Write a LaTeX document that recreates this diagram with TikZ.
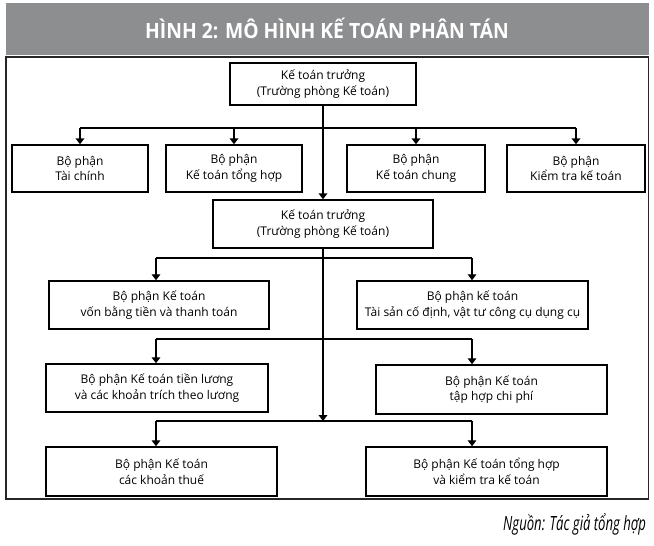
\documentclass[tikz,border=0pt]{standalone}
\usepackage{fontspec}
\setmainfont{Open Sans}
\newfontfamily\titlefont[FakeStretch=0.92]{Open Sans}
\newfontfamily\notefont[FakeStretch=0.67]{Open Sans}
\usetikzlibrary{arrows.meta}
\definecolor{headgray}{RGB}{141,142,144}

\tikzset{every picture/.style={line width=0.75pt}}
\tikzset{
  unitbox/.style={draw, line width=1.1pt, align=center, inner sep=0pt, font=\fontsize{9}{11.8}\selectfont},
  mainbus/.style={line width=1.5pt},
  subbus/.style={line width=0.9pt},
  downtip/.style={-{Triangle[width=6.5pt,length=4.5pt]}}
}

\begin{document}
\begin{tikzpicture}[x=0.75pt,y=0.75pt,yscale=-1,xscale=1]
\useasboundingbox (0,0) rectangle (654,546);
%Shape: Rectangle (title band)
\fill [headgray] (6,3) rectangle (649,55) ;
%Shape: Rectangle (frame)
\draw [line width=0.9pt, black!85] (6,57) rectangle (648.5,499) ;
% Text Node
\node (title) at (327,28) [text=white, font=\titlefont\bfseries\fontsize{15.75}{18}\selectfont] {HÌNH 2: MÔ HÌNH KẾ TOÁN PHÂN TÁN};

% boxes
\node (top) at (323,84) [unitbox, minimum width=139.5pt, minimum height=31.5pt] {Kế toán trưởng\\(Trường phòng Kế toán)};
\node (b1) at (80,168.5) [unitbox, minimum width=102pt, minimum height=35.25pt] {Bộ phận\\Tài chính};
\node (b2) at (234,168.5) [unitbox, minimum width=102pt, minimum height=35.25pt] {Bộ phận\\Kế toán tổng hợp};
\node (b3) at (416,168.5) [unitbox, minimum width=103.5pt, minimum height=35.25pt] {Bộ phận\\Kế toán chung};
\node (b4) at (576,168.5) [unitbox, minimum width=103.5pt, minimum height=35.25pt] {Bộ phận\\Kiểm tra kế toán};
\node (mid) at (323,224) [unitbox, minimum width=165pt, minimum height=36pt] {Kế toán trưởng\\(Trường phòng Kế toán)};
\node (l1) at (159,305) [unitbox, minimum width=165pt, minimum height=36pt] {Bộ phận Kế toán\\vốn bằng tiền và thanh toán};
\node (r1) at (472.5,305) [unitbox, minimum width=173.25pt, minimum height=36pt] {Bộ phận kế toán\\Tài sản cố định, vật tư công cụ dụng cụ};
\node (l2) at (157,388) [unitbox, minimum width=166.5pt, minimum height=36pt] {Bộ phận Kế toán tiền lương\\và các khoản trích theo lương};
\node (r2) at (491.5,389.5) [unitbox, minimum width=173.25pt, minimum height=36.75pt] {Bộ phận Kế toán\\tập hợp chi phí};
\node (l3) at (161.5,471.5) [unitbox, minimum width=173.25pt, minimum height=36.75pt] {Bộ phận Kế toán\\các khoản thuế};
\node (r3) at (486.5,471.5) [unitbox, minimum width=180.75pt, minimum height=36.75pt] {Bộ phận Kế toán tổng hợp\\và kiểm tra kế toán};

% branch points
\coordinate (hub1) at (323,128);
\coordinate (hub2) at (323,258);
\coordinate (hub3) at (323,339);
\coordinate (hub4) at (323,421);
\coordinate (lx) at (156,0);
\coordinate (rx) at (472,0);

%Straight Lines
\draw [mainbus] (hub1 -| b1.north) -- (hub1 -| b4.north) ;
\foreach \b in {b1,b2,b3,b4}
  \draw [mainbus, downtip] (hub1 -| \b.north) -- (\b.north) ;
\draw [mainbus, downtip] (top.south) -- (mid.north) ;
\draw [mainbus, downtip] (mid.south) -- (hub4) ;
%Straight Lines
\foreach \h/\l/\r in {hub2/l1/r1, hub3/l2/r2, hub4/l3/r3} {
  \draw [subbus] (\h -| lx) -- (\h -| rx) ;
  \draw [subbus, downtip] (\h -| lx) -- (lx |- \l.north) ;
  \draw [subbus, downtip] (\h -| rx) -- (rx |- \r.north) ;
}

% Text Node
\node (source) at (651,524) [anchor=east, font=\notefont\itshape\fontsize{14.7}{16}\selectfont] {Nguồn: Tác giả tổng hợp};
\end{tikzpicture}
\end{document}
